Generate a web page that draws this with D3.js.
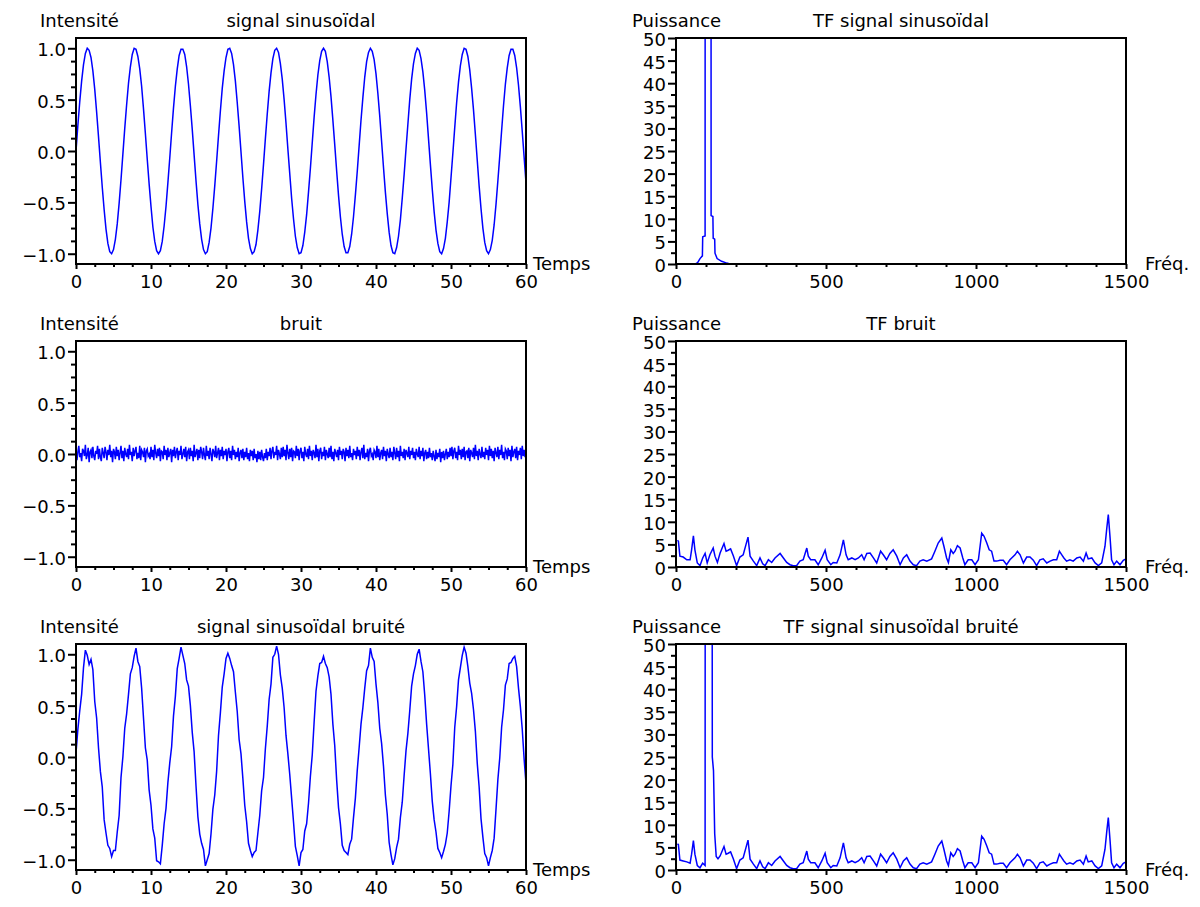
<!DOCTYPE html>
<html>
<head>
<meta charset="utf-8">
<script src="https://cdn.jsdelivr.net/npm/d3@7"></script>
<style>
  body { margin: 0; background: #fff; }
  svg { display: block; }
  .trace { fill: none; stroke: #0000ff; stroke-width: 1.5; }
  .cadre { fill: none; stroke: #000; stroke-width: 2; }
  .axe path.domain { display: none; }
  .axe line { stroke: #000; stroke-width: 2; }
  text { font-family: "DejaVu Sans", sans-serif; font-size: 18px; fill: #000; }
</style>
</head>
<body>
<svg width="1200" height="907"></svg>
<script>
// signal sinusoïdal, un point toutes les 0.25 s
var pasSinus = 0.25;
var signalSinus = [
  0.00, 0.25, 0.48, 0.68, 0.84, 0.95, 1.00, 0.98, 0.91, 0.78,
  0.60, 0.38, 0.14, -0.11, -0.35, -0.57, -0.76, -0.90, -0.98, -1.00,
  -0.96, -0.86, -0.71, -0.51, -0.28, -0.03, 0.22, 0.45, 0.66, 0.82,
  0.94, 1.00, 0.99, 0.92, 0.80, 0.63, 0.41, 0.17, -0.08, -0.32,
  -0.54, -0.74, -0.88, -0.97, -1.00, -0.97, -0.88, -0.73, -0.54, -0.31,
  -0.07, 0.18, 0.42, 0.63, 0.80, 0.93, 0.99, 0.99, 0.94, 0.82,
  0.65, 0.44, 0.21, -0.04, -0.29, -0.52, -0.71, -0.86, -0.96, -1.00,
  -0.98, -0.89, -0.75, -0.56, -0.34, -0.10, 0.15, 0.39, 0.61, 0.78,
  0.91, 0.99, 1.00, 0.95, 0.84, 0.68, 0.47, 0.24, -0.01, -0.26,
  -0.49, -0.69, -0.85, -0.95, -1.00, -0.98, -0.91, -0.77, -0.59, -0.37,
  -0.13, 0.12, 0.36, 0.58, 0.76, 0.90, 0.98, 1.00, 0.96, 0.85,
  0.70, 0.50, 0.27, 0.02, -0.22, -0.46, -0.66, -0.83, -0.94, -1.00,
  -0.99, -0.92, -0.79, -0.62, -0.40, -0.17, 0.08, 0.33, 0.55, 0.74,
  0.88, 0.97, 1.00, 0.97, 0.87, 0.72, 0.53, 0.30, 0.06, -0.19,
  -0.43, -0.64, -0.81, -0.93, -0.99, -0.99, -0.93, -0.81, -0.64, -0.43,
  -0.20, 0.05, 0.30, 0.52, 0.72, 0.87, 0.96, 1.00, 0.97, 0.89,
  0.75, 0.56, 0.34, 0.09, -0.16, -0.40, -0.61, -0.79, -0.92, -0.99,
  -1.00, -0.94, -0.83, -0.67, -0.46, -0.23, 0.02, 0.26, 0.50, 0.70,
  0.85, 0.95, 1.00, 0.98, 0.90, 0.77, 0.59, 0.37, 0.12, -0.13,
  -0.37, -0.59, -0.77, -0.90, -0.98, -1.00, -0.95, -0.85, -0.69, -0.50,
  -0.26, -0.02, 0.23, 0.47, 0.67, 0.83, 0.94, 1.00, 0.99, 0.92,
  0.79, 0.61, 0.40, 0.16, -0.09, -0.34, -0.56, -0.75, -0.89, -0.97,
  -1.00, -0.96, -0.87, -0.72, -0.52, -0.29, -0.05, 0.20, 0.44, 0.65,
  0.81, 0.93, 0.99, 0.99, 0.93, 0.81, 0.64, 0.43, 0.19, -0.06,
  -0.31
];

// bruit, un point toutes les 0.125 s
var pasBruit = 0.125;
var bruit = [
  0.04, -0.06, 0.02, 0.08, -0.03, 0.01, -0.07, 0.05, 0.03, -0.02, 0.09, -0.05, -0.01, 0.06, -0.08, 0.02, 0.04, -0.04, 0.07, -0.02,
  -0.06, 0.03, 0.00, 0.08, -0.05, 0.05, -0.03, -0.07, 0.06, 0.01, -0.04, 0.07, 0.02, -0.06, 0.04, -0.01, 0.09, -0.03, 0.03, -0.08,
  0.05, 0.02, -0.05, 0.07, -0.02, 0.04, -0.06, 0.01, 0.08, -0.04, 0.03, -0.07, 0.06, 0.00, -0.03, 0.05, -0.05, 0.09, -0.01, 0.02,
  -0.07, 0.06, -0.02, 0.03, 0.07, -0.05, 0.01, -0.04, 0.08, -0.06, 0.04, 0.02, -0.03, 0.06, -0.08, 0.03, 0.05, -0.02, 0.00, -0.05,
  0.07, -0.03, 0.04, -0.06, 0.09, 0.01, -0.04, 0.05, -0.02, 0.06, -0.07, 0.03, 0.02, -0.05, 0.08, -0.01, 0.04, -0.06, 0.06, -0.03,
  0.01, 0.05, -0.08, 0.04, -0.02, 0.07, -0.04, 0.02, 0.06, -0.06, 0.03, -0.01, 0.08, -0.05, 0.00, 0.05, -0.03, 0.07, -0.07, 0.02,
  0.04, -0.05, 0.06, -0.02, 0.03, -0.07, 0.09, -0.03, 0.01, 0.05, -0.06, 0.04, -0.04, 0.07, 0.02, -0.05, 0.06, -0.01, -0.06, 0.08,
  -0.02, 0.03, -0.05, 0.06, 0.00, -0.07, 0.05, 0.02, -0.03, 0.08, -0.04, 0.01, 0.06, -0.06, 0.04, -0.02, 0.07, -0.05, 0.03, -0.01,
  0.05, -0.07, 0.02, 0.06, -0.04, 0.03, -0.06, 0.08, -0.01, 0.04, -0.05, 0.02, -0.03, 0.06, -0.07, 0.01, 0.04, -0.04, 0.05, -0.06,
  0.02, -0.03, 0.06, -0.05, 0.01, -0.07, 0.04, -0.02, 0.03, -0.06, 0.05, -0.04, 0.00, -0.08, 0.03, -0.05, 0.02, -0.06, 0.04, -0.03,
  -0.07, 0.01, -0.04, 0.05, -0.06, 0.02, -0.02, 0.06, -0.05, 0.03, 0.07, -0.04, 0.02, -0.01, 0.08, -0.06, 0.04, 0.00, -0.05, 0.06,
  -0.03, 0.07, -0.02, 0.04, -0.06, 0.09, 0.01, -0.05, 0.05, -0.03, 0.06, -0.07, 0.03, 0.02, -0.04, 0.08, -0.02, 0.05, -0.06, 0.03,
  0.06, -0.04, 0.02, -0.07, 0.07, 0.00, -0.03, 0.05, -0.05, 0.08, -0.02, 0.03, -0.06, 0.04, 0.01, -0.04, 0.09, -0.03, 0.05, -0.07,
  0.03, 0.06, -0.05, 0.02, -0.02, 0.07, -0.06, 0.04, 0.00, -0.04, 0.06, -0.03, 0.08, -0.05, 0.02, -0.07, 0.05, 0.01, -0.03, 0.04,
  -0.06, 0.07, -0.01, 0.03, -0.05, 0.05, 0.02, -0.07, 0.06, -0.02, 0.04, -0.04, 0.08, -0.03, 0.01, -0.06, 0.05, -0.01, 0.03, -0.05,
  0.07, -0.02, 0.04, -0.06, 0.02, 0.06, -0.04, 0.09, -0.05, 0.01, -0.03, 0.05, -0.07, 0.03, 0.06, -0.02, 0.00, -0.06, 0.04, 0.02,
  -0.04, 0.08, -0.03, 0.05, -0.06, 0.01, 0.04, -0.05, 0.07, -0.02, 0.03, -0.07, 0.05, 0.00, -0.04, 0.06, -0.03, 0.02, -0.06, 0.07,
  0.01, -0.05, 0.06, -0.03, 0.03, -0.07, 0.08, -0.02, 0.02, -0.04, 0.05, -0.06, 0.04, 0.01, -0.03, 0.07, -0.05, 0.03, -0.01, 0.06,
  -0.04, 0.02, -0.06, 0.05, 0.00, -0.03, 0.07, -0.05, 0.03, -0.02, 0.06, -0.07, 0.01, 0.04, -0.05, 0.02, -0.04, 0.06, -0.03, 0.01,
  -0.06, 0.03, -0.02, -0.07, 0.04, -0.05, 0.01, -0.03, 0.05, -0.08, 0.02, -0.04, 0.03, -0.06, 0.00, 0.05, -0.05, 0.02, -0.03, 0.06,
  -0.02, 0.07, -0.05, 0.03, 0.06, -0.04, 0.02, -0.06, 0.08, -0.01, 0.04, -0.05, 0.05, -0.03, 0.07, -0.06, 0.02, 0.03, -0.04, 0.06,
  -0.07, 0.04, 0.01, -0.03, 0.06, -0.05, 0.09, -0.02, 0.03, -0.06, 0.05, 0.00, -0.04, 0.07, -0.03, 0.02, -0.05, 0.06, -0.01, 0.04,
  -0.06, 0.08, -0.02, 0.05, -0.04, 0.03, -0.07, 0.06, 0.01, -0.03, 0.07, -0.05, 0.04, -0.01, 0.09, -0.04, 0.02, -0.06, 0.05, 0.03,
  -0.05, 0.06, -0.02, 0.04, -0.07, 0.08, -0.03, 0.02, 0.05, -0.04, 0.07, -0.06, 0.03, -0.01, 0.06, -0.05, 0.08, -0.02, 0.04, -0.03,
  0.05
];

// signal sinusoïdal bruité, un point toutes les 0.25 s
var pasBruite = 0.25;
var signalBruite = [
  0.04, 0.27, 0.45, 0.61, 0.87, 1.04, 0.99, 0.90, 0.95, 0.85,
  0.54, 0.38, 0.09, -0.14, -0.29, -0.61, -0.74, -0.86, -0.89, -0.97,
  -0.91, -0.91, -0.73, -0.57, -0.20, 0.00, 0.28, 0.42, 0.61, 0.81,
  0.87, 0.98, 1.06, 0.93, 0.88, 0.67, 0.38, 0.09, -0.03, -0.32,
  -0.47, -0.70, -0.79, -1.01, -1.02, -1.04, -0.86, -0.65, -0.50, -0.25,
  -0.06, 0.10, 0.40, 0.59, 0.86, 0.96, 1.07, 0.99, 0.91, 0.75,
  0.69, 0.50, 0.24, 0.05, -0.28, -0.58, -0.75, -0.84, -0.90, -1.06,
  -1.00, -0.94, -0.75, -0.51, -0.37, -0.14, 0.21, 0.43, 0.68, 0.81,
  0.96, 1.01, 0.96, 0.89, 0.83, 0.63, 0.44, 0.17, 0.03, -0.21,
  -0.47, -0.63, -0.84, -0.91, -0.97, -0.93, -0.91, -0.74, -0.57, -0.33,
  -0.20, 0.08, 0.30, 0.56, 0.71, 0.97, 1.00, 1.08, 1.00, 0.80,
  0.67, 0.48, 0.21, 0.03, -0.17, -0.40, -0.63, -0.87, -0.96, -1.06,
  -0.93, -0.90, -0.72, -0.65, -0.45, -0.19, 0.02, 0.34, 0.64, 0.79,
  0.91, 0.92, 0.98, 0.91, 0.87, 0.78, 0.61, 0.32, 0.11, -0.22,
  -0.49, -0.65, -0.86, -0.91, -0.93, -0.95, -0.85, -0.80, -0.59, -0.40,
  -0.13, 0.09, 0.32, 0.48, 0.67, 0.84, 0.89, 1.06, 0.97, 0.93,
  0.71, 0.53, 0.28, 0.13, -0.09, -0.37, -0.56, -0.83, -0.95, -1.05,
  -0.99, -0.88, -0.80, -0.59, -0.44, -0.18, 0.06, 0.23, 0.45, 0.69,
  0.81, 0.89, 1.00, 1.05, 0.93, 0.83, 0.60, 0.32, 0.08, -0.16,
  -0.43, -0.61, -0.73, -0.89, -0.93, -0.98, -0.92, -0.85, -0.74, -0.53,
  -0.28, -0.07, 0.29, 0.49, 0.75, 0.87, 0.99, 1.07, 1.01, 0.88,
  0.72, 0.62, 0.46, 0.25, -0.06, -0.29, -0.60, -0.78, -0.94, -0.98,
  -1.06, -0.98, -0.91, -0.79, -0.51, -0.22, -0.01, 0.29, 0.46, 0.70,
  0.76, 0.91, 0.92, 0.96, 0.98, 0.88, 0.67, 0.49, 0.27, -0.02,
  -0.26
];

// spectres : couples [fréquence, puissance]
var tfSinus = [
  [0, 0], [65, 0], [72, 0.3], [80, 1.2], [88, 1.8], [89, 6], [97, 6.2], [98, 400],
  [116, 400], [117, 10.7], [123, 10.5], [124, 5.7], [129, 5.5], [130, 2.4],
  [137, 1.2], [152, 0.6], [169, 0.2], [180, 0], [1500, 0]
];

var tfBruit = [
  [5, 5.9], [8, 5.7], [13, 2.4], [24, 2.2], [36, 1.6], [47, 1.6], [52, 3.8], [58, 6.9],
  [63, 3.8], [71, 0.9], [80, 0.3], [89, 2], [97, 3], [104, 0.9], [113, 2.7], [124, 4.2],
  [130, 2.4], [138, 1], [147, 3.1], [160, 5.2], [167, 3.5], [174, 3.7], [182, 4], [191, 2.5],
  [202, 0.3], [213, 2.2], [224, 2.7], [233, 4.9], [240, 6.6], [247, 2.4], [258, 1.3], [269, 0.3],
  [280, 2], [289, 0.7], [297, 0.3], [308, 1.6], [319, 1], [330, 2], [347, 3], [358, 2],
  [369, 1], [380, 0.5], [391, 0.3], [402, 0.3], [413, 1.3], [424, 1.6], [436, 4.2], [441, 2.4],
  [449, 1.6], [463, 1.6], [474, 0.5], [486, 2], [497, 3.7], [504, 1.6], [516, 0.5], [524, 1],
  [536, 0.9], [547, 2.7], [558, 6], [567, 2.7], [574, 1.6], [586, 2], [597, 1.6], [608, 2],
  [619, 2.7], [627, 1.6], [636, 3], [647, 3.1], [658, 2], [669, 0.9], [682, 3.5], [691, 2.7],
  [702, 1.6], [713, 3], [724, 3.8], [736, 2.4], [747, 0.5], [758, 2], [769, 2.7], [780, 1.3],
  [791, 0.5], [802, 0.3], [813, 1.3], [824, 1.6], [836, 1.3], [852, 1.8], [863, 3.5], [874, 5.3],
  [886, 6.4], [893, 4.6], [902, 2], [908, 1], [916, 3.8], [924, 3], [930, 3.5], [938, 4.7],
  [947, 4.2], [956, 2], [963, 0.5], [974, 1.6], [986, 1.6], [997, 0.5], [1008, 1.6], [1019, 7.5],
  [1027, 6.8], [1036, 5.3], [1044, 3.8], [1052, 3.5], [1060, 1.3], [1069, 1.3], [1080, 1.5], [1091, 1.5],
  [1102, 0.5], [1113, 1.6], [1130, 2.7], [1138, 3.5], [1147, 2.7], [1158, 0.9], [1169, 2.2], [1180, 2.2],
  [1191, 1.5], [1202, 0.3], [1213, 1.6], [1224, 1.8], [1236, 0.9], [1247, 1.3], [1258, 1.6], [1269, 1.6],
  [1278, 3.5], [1286, 2.7], [1293, 2], [1302, 1.3], [1313, 1.6], [1324, 1.3], [1336, 2], [1347, 2.2],
  [1358, 1.3], [1367, 3.1], [1374, 1.8], [1386, 2], [1397, 0.9], [1408, 0.3], [1419, 0.9], [1430, 4.6],
  [1436, 8.6], [1441, 11.6], [1447, 6.4], [1452, 1.6], [1460, 0.5], [1469, 1.3], [1480, 0.5], [1491, 1.5],
  [1500, 1.8]
];

// basses fréquences du signal bruité (au-delà de 150 il suit le spectre du bruit)
var tfBruiteBas = [
  [5, 5.8], [8, 5.6], [13, 2.2], [24, 2.0], [36, 1.8], [47, 1.5], [52, 3.5], [58, 6.5],
  [63, 3.5], [71, 1], [80, 0.5], [89, 1.5], [97, 1], [99, 400], [117, 400], [121, 25],
  [125, 22], [129, 8], [134, 3], [140, 2.5], [147, 3.1]
];

// graduations
var ticksTemps = [0, 10, 20, 30, 40, 50, 60];
var ticksTempsMin = [2.5, 5, 7.5, 12.5, 15, 17.5, 22.5, 25, 27.5, 32.5, 35, 37.5, 42.5, 45, 47.5, 52.5, 55, 57.5];
var ticksIntensite = [-1.0, -0.5, 0.0, 0.5, 1.0];
var ticksIntensiteMin = [-0.875, -0.75, -0.625, -0.375, -0.25, -0.125, 0.125, 0.25, 0.375, 0.625, 0.75, 0.875];
var ticksFreq = [0, 500, 1000, 1500];
var ticksFreqMin = [100, 200, 300, 400, 600, 700, 800, 900, 1100, 1200, 1300, 1400];
var ticksPuissance = [0, 5, 10, 15, 20, 25, 30, 35, 40, 45, 50];
var ticksPuissanceMin = [2.5, 7.5, 12.5, 17.5, 22.5, 27.5, 32.5, 37.5, 42.5, 47.5];

var svg = d3.select("svg");
var largeur = 450;
var hauteur = 226;
var gauches = [76, 676];
var hauts = [38, 341, 644];

function serieTemps(valeurs, pas) {
  return valeurs.map(function(v, i) { return [i * pas, v]; });
}

var panneaux = [
  { col: 0, row: 0, type: "temps", titre: "signal sinusoïdal", data: serieTemps(signalSinus, pasSinus) },
  { col: 1, row: 0, type: "freq", titre: "TF signal sinusoïdal", data: tfSinus },
  { col: 0, row: 1, type: "temps", titre: "bruit", data: serieTemps(bruit, pasBruit) },
  { col: 1, row: 1, type: "freq", titre: "TF bruit", data: tfBruit },
  { col: 0, row: 2, type: "temps", titre: "signal sinusoïdal bruité", data: serieTemps(signalBruite, pasBruite) },
  { col: 1, row: 2, type: "freq", titre: "TF signal sinusoïdal bruité",
    data: tfBruiteBas.concat(tfBruit.filter(function(d) { return d[0] > 150; })) }
];

panneaux.forEach(function(p, idx) {
  createPanel(p, idx);
});

function createPanel(p, idx) {
  var left = gauches[p.col];
  var top = hauts[p.row];
  var temps = p.type === "temps";

  var x = d3.scaleLinear()
    .domain(temps ? [0, 60] : [0, 1500])
    .range([left, left + largeur]);
  var y = d3.scaleLinear()
    .domain(temps ? [-1.1, 1.1] : [0, 50])
    .range([top + hauteur, top]);

  var clipId = "clip-" + idx;
  svg.append("clipPath")
    .attr("id", clipId)
    .append("rect")
    .attr("x", left)
    .attr("y", top)
    .attr("width", largeur)
    .attr("height", hauteur);

  var line = d3.line()
    .x(function(d) { return x(d[0]); })
    .y(function(d) { return y(d[1]); });

  svg.append("path")
    .datum(p.data)
    .attr("class", "trace")
    .attr("clip-path", "url(#" + clipId + ")")
    .attr("d", line);

  // cadre + graduations par-dessus la courbe
  svg.append("rect")
    .attr("class", "cadre")
    .attr("x", left)
    .attr("y", top)
    .attr("width", largeur)
    .attr("height", hauteur);

  var fmtY = temps ? d3.format(".1f") : d3.format("d");

  svg.append("g")
    .attr("class", "axe")
    .attr("transform", "translate(" + left + ",0)")
    .call(d3.axisLeft(y).tickValues(temps ? ticksIntensiteMin : ticksPuissanceMin).tickSize(5).tickFormat(""));

  svg.append("g")
    .attr("class", "axe")
    .attr("transform", "translate(" + left + ",0)")
    .call(d3.axisLeft(y).tickValues(temps ? ticksIntensite : ticksPuissance).tickSize(8).tickPadding(2).tickFormat(fmtY))
    .selectAll("text")
    .attr("dy", "0.42em");

  svg.append("g")
    .attr("class", "axe")
    .attr("transform", "translate(0," + (top + hauteur) + ")")
    .call(d3.axisBottom(x).tickValues(temps ? ticksTempsMin : ticksFreqMin).tickSize(3).tickFormat(""));

  svg.append("g")
    .attr("class", "axe")
    .attr("transform", "translate(0," + (top + hauteur) + ")")
    .call(d3.axisBottom(x).tickValues(temps ? ticksTemps : ticksFreq).tickSize(5).tickPadding(6).tickFormat(d3.format("d")));

  // textes
  svg.append("text")
    .attr("x", temps ? left - 36 : left - 44)
    .attr("y", top - 11)
    .text(temps ? "Intensité" : "Puissance");

  svg.append("text")
    .attr("x", left + largeur / 2)
    .attr("y", top - 11)
    .attr("text-anchor", "middle")
    .text(p.titre);

  svg.append("text")
    .attr("x", temps ? left + largeur + 7 : left + largeur + 19)
    .attr("y", top + hauteur + 6)
    .text(temps ? "Temps" : "Fréq.");
}
</script>
</body>
</html>
